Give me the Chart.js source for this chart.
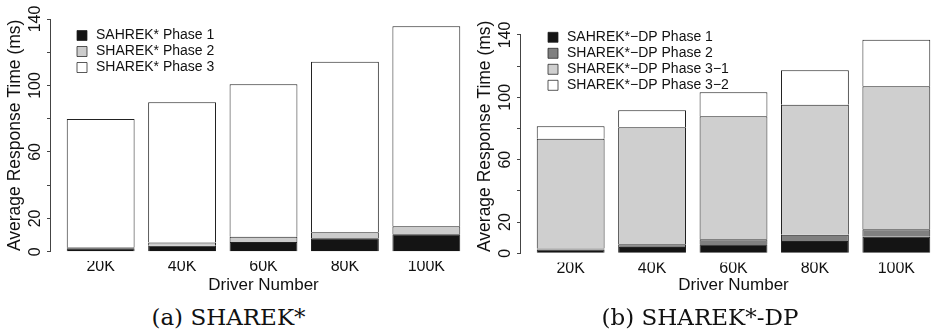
<!DOCTYPE html>
<html>
<head>
<meta charset="utf-8">
<script src="https://cdn.jsdelivr.net/npm/chart.js@4.4.1/dist/chart.umd.min.js"></script>
<style>
  html, body { margin: 0; padding: 0; background: #fff; }
  body { position: relative; width: 933px; height: 334px; overflow: hidden; }
  .panel { position: absolute; top: 0; width: 476px; height: 300px; }
  #panelA { left: 0; }
  #panelB { left: 470px; }
  .caption {
    position: absolute; top: 304px; height: 26px; line-height: 26px;
    font-family: "DejaVu Serif", "Liberation Serif", serif; font-size: 23px;
    color: #111; text-align: center; white-space: nowrap;
  }
  #capA { left: 0; width: 457px; }
  #capB { left: 466px; width: 468px; }
</style>
</head>
<body>
<div class="panel" id="panelA"><canvas id="chartA" width="476" height="300"></canvas></div>
<div class="panel" id="panelB"><canvas id="chartB" width="476" height="300"></canvas></div>
<div class="caption" id="capA">(a) SHAREK*</div>
<div class="caption" id="capB">(b) SHAREK*-DP</div>

<script>
// Driver counts on the x axis
const categories = ['20K', '40K', '60K', '80K', '100K'];

// (a) SHAREK*: response time per phase (ms)
const sharekPhase1 = [2.0, 3.6, 5.8, 8.1, 10.5];
const sharekPhase2 = [0.6, 1.9, 3.2, 3.6, 4.8];
const sharekPhase3 = [77.2, 84.4, 91.7, 102.6, 120.3];

// (b) SHAREK*-DP: response time per phase (ms)
const dpPhase1 = [2.4, 4.0, 5.8, 7.9, 10.5];
const dpPhase2 = [0.7, 1.7, 3.2, 4.0, 4.9];
const dpPhase31 = [70.4, 75.1, 78.9, 83.4, 91.7];
const dpPhase32 = [8.0, 10.9, 15.4, 22.1, 29.9];

// y axis: tick marks every 20, labels only where they fit
const yTicks = [0, 20, 40, 60, 80, 100, 120, 140];
const yTickLabels = [0, 20, 60, 100, 140];

// Bar layout in axis units: unit-wide bars separated by 0.2, 4% range padding
const BAR_WIDTH = 1;
const BAR_SPACE = 0.2;
const slot = i => BAR_SPACE + i * (BAR_WIDTH + BAR_SPACE) + BAR_WIDTH / 2;
const xLeft = BAR_SPACE;
const xRight = categories.length * (BAR_WIDTH + BAR_SPACE);
const xPad = 0.04 * (xRight - xLeft);

Chart.defaults.font.family = '"Liberation Sans", Arial, Helvetica, sans-serif';
Chart.defaults.color = '#111';

const INK = '#222';
const AXIS = '#444';

// y axis line spans only the first to the last tick
const axisLinePlugin = {
  id: 'axisLine',
  afterDraw(chart) {
    const ys = chart.scales.y;
    const x = Math.round(chart.chartArea.left) - 0.5;
    const ctx = chart.ctx;
    ctx.save();
    ctx.strokeStyle = AXIS;
    ctx.lineWidth = 1;
    ctx.beginPath();
    ctx.moveTo(x, ys.getPixelForValue(yTicks[0]));
    ctx.lineTo(x, ys.getPixelForValue(yTicks[yTicks.length - 1]));
    ctx.stroke();
    ctx.restore();
  }
};

// legend sits inside the plot, inset from its top-left corner
const legendInsetPlugin = {
  id: 'legendInset',
  afterLayout(chart, args, opts) {
    const lg = chart.legend;
    if (!lg) return;
    lg.left = chart.chartArea.left + opts.dx;
    lg.top = chart.chartArea.top + opts.dy;
  }
};

function series(label, values, color) {
  return {
    label,
    data: values.map((v, i) => ({ x: slot(i), y: v })),
    backgroundColor: color,
    borderColor: INK,
    borderWidth: { top: 1, left: 1, right: 1, bottom: 0 },
    borderSkipped: false,
    categoryPercentage: 1,
    barPercentage: BAR_WIDTH / (BAR_WIDTH + BAR_SPACE)
  };
}

function makeChart(id, datasets, yLimit, padTop, xAxisHeight, inset) {
  return new Chart(document.getElementById(id), {
    type: 'bar',
    data: { datasets },
    plugins: [axisLinePlugin, legendInsetPlugin],
    options: {
      responsive: false,
      animation: false,
      devicePixelRatio: 1,
      layout: { padding: { top: padTop, left: 0, right: 0, bottom: 0 } },
      scales: {
        x: {
          type: 'linear',
          offset: false,
          stacked: true,
          min: xLeft - xPad,
          max: xRight + xPad,
          afterBuildTicks: s => { s.ticks = categories.map((c, i) => ({ value: slot(i) })); },
          afterFit: s => { s.height = xAxisHeight; },
          ticks: {
            autoSkip: false, maxRotation: 0, padding: -4,
            font: { size: 16 }, color: '#111',
            callback: (v, i) => categories[i]
          },
          grid: { display: false, offset: false, drawTicks: false, tickLength: 0 },
          border: { display: false },
          title: {
            display: true, text: 'Driver Number', color: '#111',
            font: { size: 17 }, padding: { top: 0, bottom: 4 }
          }
        },
        y: {
          stacked: true,
          min: -0.04 * yLimit,
          max: 1.04 * yLimit,
          afterBuildTicks: s => { s.ticks = yTicks.map(v => ({ value: v })); },
          afterFit: s => { s.width = 51; },
          ticks: {
            autoSkip: false, minRotation: 90, maxRotation: 90,
            crossAlign: 'center', padding: -2,
            font: { size: 16 }, color: '#111',
            callback: v => (yTickLabels.includes(v) ? String(v) : '')
          },
          grid: { display: true, drawOnChartArea: false, drawTicks: true, tickLength: 4, color: AXIS },
          border: { display: false },
          title: {
            display: true, text: 'Average Response Time (ms)', color: '#111',
            font: { size: 17.5 }, padding: { top: 5, bottom: 0 }
          }
        }
      },
      plugins: {
        legend: {
          position: 'chartArea',
          align: 'start',
          labels: {
            usePointStyle: true, pointStyle: 'rect',
            boxWidth: 14, boxHeight: 10, padding: 2,
            font: { size: 14 }, color: '#111'
          }
        },
        legendInset: inset,
        tooltip: { enabled: false }
      }
    }
  });
}

makeChart('chartA', [
  series('SAHREK* Phase 1', sharekPhase1, '#141414'),
  series('SHAREK* Phase 2', sharekPhase2, '#cccccc'),
  series('SHAREK* Phase 3', sharekPhase3, '#ffffff')
], 140, 9.7, 39, { dx: 22, dy: 16.8 });

makeChart('chartB', [
  series('SAHREK*\u2212DP Phase 1', dpPhase1, '#141414'),
  series('SHAREK*\u2212DP Phase 2', dpPhase2, '#808080'),
  series('SHAREK*\u2212DP Phase 3\u22121', dpPhase31, '#cfcfcf'),
  series('SHAREK*\u2212DP Phase 3\u22122', dpPhase32, '#ffffff')
], 150, 10, 37.4, { dx: 23, dy: 18.3 });
</script>
</body>
</html>
